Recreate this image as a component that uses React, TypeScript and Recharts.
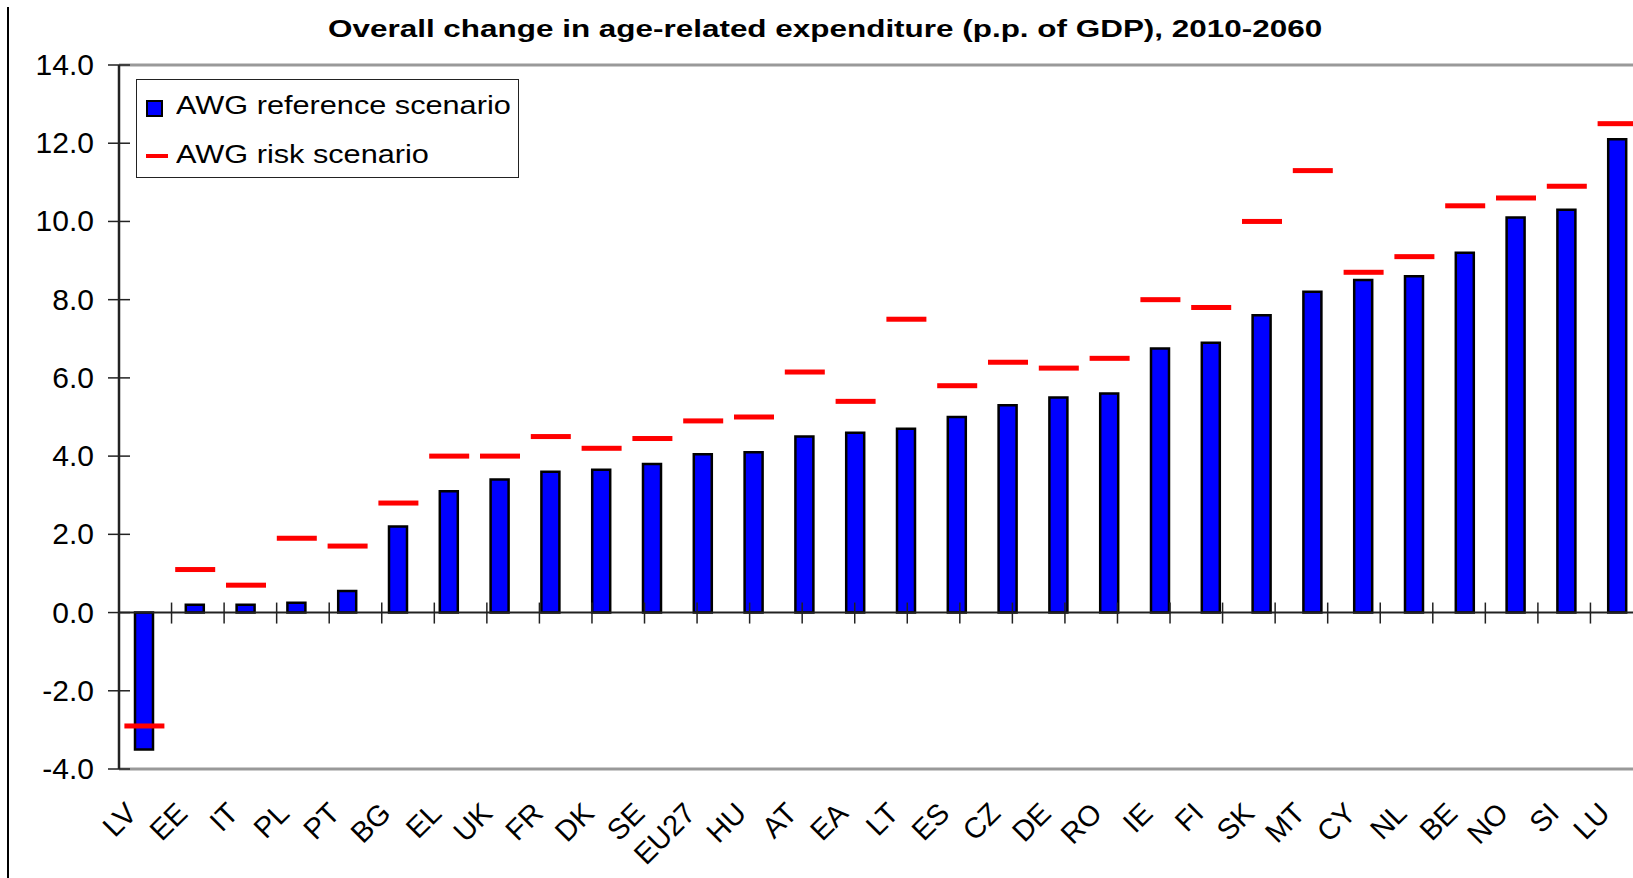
import { ComposedChart, Bar, Line, XAxis, YAxis, Legend, ReferenceLine } from 'recharts';

const countries = ['LV', 'EE', 'IT', 'PL', 'PT', 'BG', 'EL', 'UK', 'FR', 'DK', 'SE', 'EU27', 'HU', 'AT', 'EA', 'LT', 'ES', 'CZ', 'DE', 'RO', 'IE', 'FI', 'SK', 'MT', 'CY', 'NL', 'BE', 'NO', 'SI', 'LU'];
const referenceScenario = [-3.5, 0.2, 0.2, 0.25, 0.55, 2.2, 3.1, 3.4, 3.6, 3.65, 3.8, 4.05, 4.1, 4.5, 4.6, 4.7, 5.0, 5.3, 5.5, 5.6, 6.75, 6.9, 7.6, 8.2, 8.5, 8.6, 9.2, 10.1, 10.3, 12.1];
const riskScenario = [-2.9, 1.1, 0.7, 1.9, 1.7, 2.8, 4.0, 4.0, 4.5, 4.2, 4.45, 4.9, 5.0, 6.15, 5.4, 7.5, 5.8, 6.4, 6.25, 6.5, 8.0, 7.8, 10.0, 11.3, 8.7, 9.1, 10.4, 10.6, 10.9, 12.5];
const yTicks = [-4, -2, 0, 2, 4, 6, 8, 10, 12, 14];
const seriesNames = ['AWG reference scenario', 'AWG risk scenario'];
const title = 'Overall change in age-related expenditure (p.p. of GDP), 2010-2060';

const data = countries.map((c, i) => ({ country: c, reference: referenceScenario[i], risk: riskScenario[i] }));
// category boundaries, on a hidden 0..n number axis
const edges = countries.slice(1).map((_, i) => i + 1);

const FONT = '"Liberation Sans", Arial, sans-serif';
const BLUE = '#0000ff';
const RED = '#ff0000';

function YTick({ x, y, payload }: any) {
  return (
    <g>
      <line x1={x - 11} x2={x + 11} y1={y} y2={y} stroke="#222" strokeWidth={1.5} />
      <text x={x - 25} y={y + 10} textAnchor="end" fontSize={30} fontFamily={FONT} fill="#000">
        {Number(payload.value).toFixed(1)}
      </text>
    </g>
  );
}

function XTick({ x, y, payload }: any) {
  const px = x - 6;
  const py = y + 46;
  return (
    <text x={px} y={py} transform={`rotate(-45 ${px} ${py})`} textAnchor="end" fontSize={29} fontFamily={FONT} fill="#000">
      {payload.value}
    </text>
  );
}

function RiskDash({ cx, cy }: any) {
  if (cx == null || cy == null) return <g />;
  return <rect x={cx - 20} y={cy - 2.5} width={40} height={5} fill={RED} />;
}

function EdgeTick({ x1, y1 }: any) {
  return <line x1={x1} x2={x1} y1={y1 - 10} y2={y1 + 11} stroke="#222" strokeWidth={1.5} />;
}

function LegendBox() {
  const text = { position: 'absolute' as const, left: 39, fontSize: 26, lineHeight: '26px', whiteSpace: 'nowrap' as const, transform: 'scaleX(1.18)', transformOrigin: 'left', color: '#000' };
  return (
    <div style={{ position: 'relative', width: 383, height: 99, boxSizing: 'border-box', border: '1.5px solid #222', background: '#fff', fontFamily: FONT }}>
      <div style={{ position: 'absolute', left: 9, top: 20, width: 17, height: 17, boxSizing: 'border-box', background: BLUE, border: '2.5px solid #000' }} />
      <div style={{ ...text, top: 12 }}>{seriesNames[0]}</div>
      <div style={{ position: 'absolute', left: 9, top: 74, width: 22, height: 3.5, background: RED }} />
      <div style={{ ...text, top: 61 }}>{seriesNames[1]}</div>
    </div>
  );
}

export default function App() {
  return (
    <div style={{ position: 'fixed', left: 0, top: 0, width: 1633, height: 878, overflow: 'hidden', background: '#fff' }}>
      <div style={{ position: 'absolute', left: 7, top: 7, width: 2, height: 871, background: '#000' }} />
      <div
        style={{
          position: 'absolute', left: 328, top: 17, fontFamily: FONT, fontWeight: 'bold', fontSize: 24, lineHeight: '24px',
          whiteSpace: 'nowrap', transform: 'scaleX(1.31)', transformOrigin: 'left', color: '#000',
        }}
      >
        {title}
      </div>
      <ComposedChart width={1660} height={878} data={data} margin={{ top: 65, right: 17, bottom: 0, left: 0 }}>
        <XAxis dataKey="country" interval={0} height={109} tickSize={0} tickMargin={0} tickLine={false} tick={<XTick />} axisLine={{ stroke: '#999', strokeWidth: 3 }} />
        <XAxis xAxisId="edges" type="number" domain={[0, countries.length]} allowDataOverflow hide />
        <YAxis domain={[-4, 14]} ticks={yTicks} interval={0} width={119} tickSize={0} tickMargin={0} tickLine={false} tick={<YTick />} axisLine={{ stroke: '#222', strokeWidth: 2.5 }} />
        <ReferenceLine y={14} stroke="#999" strokeWidth={3} />
        <ReferenceLine y={0} stroke="#222" strokeWidth={2} />
        {edges.map((k) => (
          <ReferenceLine key={k} xAxisId="edges" segment={[{ x: k, y: 0 }, { x: k, y: 0 }]} shape={<EdgeTick />} />
        ))}
        <Legend layout="horizontal" verticalAlign="middle" align="center" wrapperStyle={{ left: 136, top: 79, width: 383 }} content={<LegendBox />} />
        <Bar dataKey="reference" name={seriesNames[0]} fill={BLUE} stroke="#000" strokeWidth={2.5} barSize={18} isAnimationActive={false} />
        <Line dataKey="risk" name={seriesNames[1]} stroke="none" dot={<RiskDash />} activeDot={false} isAnimationActive={false} />
      </ComposedChart>
    </div>
  );
}
